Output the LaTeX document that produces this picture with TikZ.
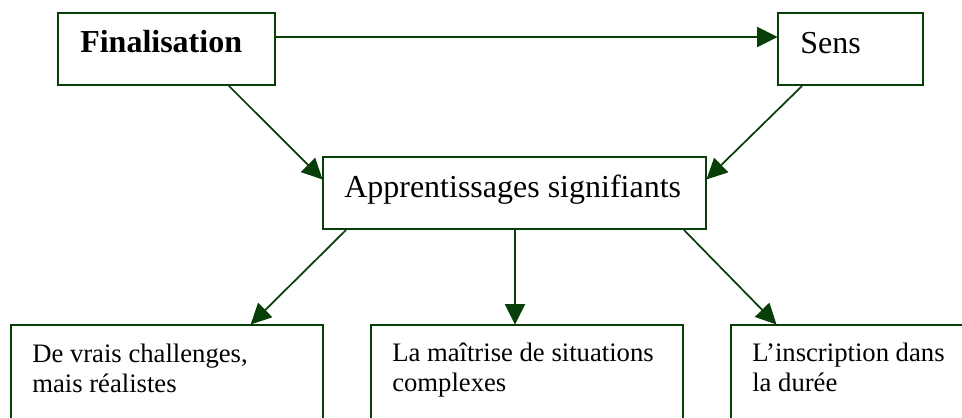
\documentclass[tikz,border=0pt]{standalone}
\usepackage{fontspec}
\setmainfont{Liberation Serif}
\usetikzlibrary{arrows.meta}
\definecolor{linegreen}{RGB}{8,62,8}
\tikzset{
  box/.style={draw=linegreen, line width=1.4pt, fill=white, inner sep=0pt},
  link/.style={draw=linegreen, line width=1.3pt,
    -{Triangle[length=15.5pt,width=15pt]}, shorten >=-0.5pt},
  bigtxt/.style={anchor=base west, inner sep=0pt, font=\fontsize{24}{28}\selectfont},
  smalltxt/.style={anchor=base west, inner sep=0pt, align=left,
    font=\fontsize{20}{22.5}\selectfont}
}
\begin{document}
\begin{tikzpicture}[x=0.75pt,y=-0.75pt]
  \useasboundingbox (0,0) rectangle (962,417);
  \clip (0,0) rectangle (962,417);

  % top row
  \node[box, minimum width=217*0.75pt, minimum height=72*0.75pt] (fin) at (166.5,49) {};
  \node[box, minimum width=145*0.75pt, minimum height=72*0.75pt] (sens) at (850.5,49) {};
  % centre
  \node[box, minimum width=383*0.75pt, minimum height=72*0.75pt] (app) at (514.5,193) {};
  % bottom row (runs past the lower edge)
  \node[box, minimum width=312*0.75pt, minimum height=130*0.75pt] (b1) at (167,390) {};
  \node[box, minimum width=312*0.75pt, minimum height=130*0.75pt] (b2) at (527,390) {};
  \node[box, minimum width=312*0.75pt, minimum height=130*0.75pt] (b3) at (887,390) {};

  % labels (multi-line nodes sit on the baseline of their last line)
  \node[bigtxt, font=\fontsize{24}{28}\selectfont\bfseries] (tfin) at (80,53) {Finalisation};
  \node[bigtxt] (tsens) at (800,54) {Sens};
  \node[bigtxt] (tapp) at (344,197) {Apprentissages signifiants};
  \node[smalltxt] (tb1) at (32,392) {De vrais challenges,\\mais réalistes};
  \node[smalltxt] (tb2) at (392,391) {La maîtrise de situations\\complexes};
  \node[smalltxt] (tb3) at (752,391) {L’inscription dans\\la durée};

  % connectors
  \coordinate (appmid) at ([xshift=0.375pt]app.south);
  \draw[link] ([yshift=9pt]fin.east) -- ([yshift=9pt]sens.west);
  \draw[link] ([xshift=-35.25pt]fin.south east) -- ([yshift=10.5pt]app.west);
  \draw[link] ([xshift=18.75pt]sens.south west) -- ([yshift=10.5pt]app.east);
  \draw[link] ([xshift=18pt]app.south west) -- ([xshift=180.75pt]b1.north west);
  \draw[link, line width=1.4pt] (appmid) -- (appmid |- b2.north);
  \draw[link] ([xshift=-17.25pt]app.south east) -- ([xshift=34.5pt]b3.north west);
\end{tikzpicture}
\end{document}
